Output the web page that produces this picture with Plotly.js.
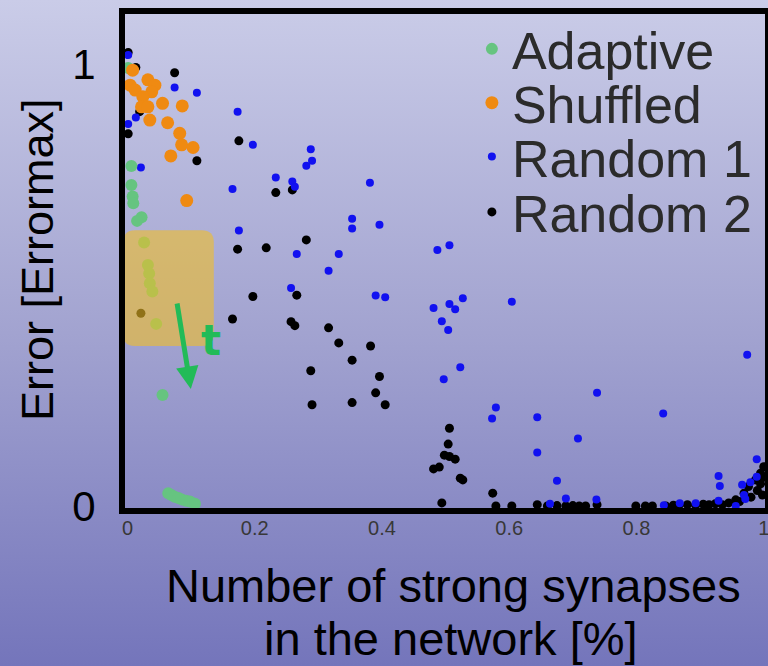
<!DOCTYPE html>
<html>
<head>
<meta charset="utf-8">
<script src="https://cdn.plot.ly/plotly-3.0.1.min.js"></script>
<style>
  html, body { margin: 0; padding: 0; }
  body { width: 768px; height: 666px; overflow: hidden;
         background: linear-gradient(to bottom, #cacce8 0%, #a2a3d0 50%, #7475bb 100%); }
  #chart { width: 768px; height: 666px; }
</style>
</head>
<body>
<div id="chart"></div>
<script>
// ---- data ----
const seriesNames = ["Adaptive", "Shuffled", "Random 1", "Random 2"];

const adaptiveX = [0.001,0.006,0.006,0.008,0.009,0.022,0.015,0.026,0.032,0.034,0.035,0.039,0.045,0.055,0.064,0.069,0.074,0.080,0.085,0.092,0.098,0.106];
const adaptiveY = [0.991,0.769,0.726,0.700,0.685,0.653,0.645,0.596,0.545,0.526,0.504,0.485,0.412,0.251,0.029,0.025,0.021,0.018,0.015,0.012,0.010,0.005];

const shuffledX = [0.008,0.004,0.012,0.032,0.043,0.038,0.024,0.022,0.032,0.055,0.086,0.035,0.063,0.082,0.085,0.103,0.068,0.093];
const shuffledY = [0.986,0.952,0.941,0.964,0.952,0.937,0.926,0.903,0.903,0.911,0.905,0.873,0.867,0.843,0.817,0.811,0.792,0.691];

const random1X = [0.001,0.074,0.109,0.013,0.001,0.173,0.197,0.288,0.290,0.281,0.021,0.233,0.259,0.263,0.165,0.381,0.353,0.353,0.396,0.175,0.266,0.332,0.487,0.506,0.316,0.257,0.390,0.405,0.481,0.506,0.515,0.527,0.494,0.504,0.604,0.523,0.497,0.974,0.738,0.579,0.573,0.644,0.842,0.708,0.644,0.989,0.675,0.689,0.737,0.929,0.931,0.966,0.979,0.969,0.989,0.664,0.843,0.868,0.893,0.929,0.971,0.956];
const random1Y = [1.020,0.947,0.935,0.879,0.864,0.892,0.817,0.807,0.781,0.770,0.766,0.743,0.734,0.722,0.717,0.731,0.650,0.628,0.636,0.623,0.570,0.570,0.579,0.590,0.532,0.493,0.476,0.472,0.448,0.457,0.445,0.470,0.418,0.398,0.462,0.314,0.287,0.342,0.256,0.223,0.198,0.201,0.209,0.153,0.121,0.106,0.057,0.017,0.015,0.068,0.045,0.048,0.054,0.025,0.066,0.005,0.002,0.006,0.006,0.012,0.016,0.000];

const random2X = [0.001,0.013,0.074,0.019,0.001,0.175,0.109,0.233,0.259,0.281,0.173,0.218,0.266,0.197,0.165,0.257,0.263,0.316,0.332,0.382,0.353,0.288,0.396,0.390,0.290,0.353,0.405,0.021,0.506,0.504,0.498,0.506,0.515,0.481,0.490,0.523,0.527,0.494,0.574,
  0.579,0.604,0.644,0.660,0.675,0.689,0.700,0.710,0.720,0.738,0.799,0.814,0.825,0.846,0.858,0.867,0.880,0.893,0.905,0.914,0.924,0.935,0.945,0.956,0.962,0.969,0.976,0.980,0.987,0.990,0.995,0.995,1.000,1.000,0.998];
const random2Y = [1.026,0.992,0.980,0.892,0.842,0.826,0.781,0.709,0.715,0.602,0.581,0.584,0.477,0.474,0.423,0.417,0.408,0.403,0.369,0.362,0.330,0.306,0.293,0.256,0.229,0.234,0.229,0.436,0.176,0.140,0.115,0.112,0.106,0.084,0.088,0.063,0.059,0.007,0.029,
  0.000,0.000,0.003,0.000,0.001,0.000,0.001,0.000,0.000,0.003,0.000,0.000,0.000,0.000,0.002,0.002,0.003,0.002,0.004,0.003,0.005,0.003,0.007,0.014,0.010,0.029,0.044,0.020,0.059,0.035,0.074,0.050,0.089,0.065,0.025];

const xTickVals = [0, 0.2, 0.4, 0.6, 0.8, 1];
const xTickText = ["0", "0.2", "0.4", "0.6", "0.8", "1"];
const yTickVals = [0, 1];
const yTickText = ["0", "1"];

// ---- styling ----
const FONT = "Liberation Sans, Arial, Helvetica, sans-serif";
const colors = { adaptive: "#66c480", shuffled: "#ef8a12", random1: "#1111f0", random2: "#000000" };

function legendBox(y) {
  return { x: 0.542, xanchor: "left", y: y, yanchor: "middle",
           bgcolor: "rgba(0,0,0,0)", borderwidth: 0,
           font: { family: FONT, size: 52, color: "#2b2b2b" } };
}

const traces = [
  { type: "scatter", mode: "markers", name: seriesNames[3], x: random2X, y: random2Y,
    marker: { color: colors.random2, size: 9 }, legend: "legend4" },
  { type: "scatter", mode: "markers", name: seriesNames[2], x: random1X, y: random1Y,
    marker: { color: colors.random1, size: 8 }, legend: "legend3" },
  { type: "scatter", mode: "markers", name: seriesNames[0], x: adaptiveX, y: adaptiveY,
    marker: { color: colors.adaptive, size: 12 }, legend: "legend" },
  { type: "scatter", mode: "markers", name: seriesNames[1], x: shuffledX, y: shuffledY,
    marker: { color: colors.shuffled, size: 13 }, legend: "legend2" }
];

// highlight box (rounded rectangle) in data coordinates
const bx0 = -0.007, bx1 = 0.1356, by0 = 0.362, by1 = 0.624, rx = 0.019, ry = 0.027;
const boxPath = `M ${bx0+rx},${by1} L ${bx1-rx},${by1} Q ${bx1},${by1} ${bx1},${by1-ry} ` +
  `L ${bx1},${by0+ry} Q ${bx1},${by0} ${bx1-rx},${by0} L ${bx0+rx},${by0} Q ${bx0},${by0} ${bx0},${by0+ry} ` +
  `L ${bx0},${by1-ry} Q ${bx0},${by1} ${bx0+rx},${by1} Z`;

const layout = {
  width: 768, height: 666,
  margin: { l: 125, r: 3, t: 14, b: 158 },
  paper_bgcolor: "rgba(0,0,0,0)",
  plot_bgcolor: "rgba(0,0,0,0)",
  font: { family: FONT, color: "#000" },
  showlegend: true,
  legend: legendBox(0.929),
  legend2: legendBox(0.820),
  legend3: legendBox(0.711),
  legend4: legendBox(0.599),
  xaxis: {
    range: [-0.004, 1.002], showgrid: false, zeroline: false,
    showline: true, mirror: true, linecolor: "#000", linewidth: 6,
    tickmode: "array", tickvals: xTickVals, ticktext: xTickText,
    ticks: "", ticklabelstandoff: -3, ticklabeloverflow: "allow",
    tickfont: { family: FONT, size: 20, color: "#383838" }
  },
  yaxis: {
    range: [-0.0045, 1.113], showgrid: false, zeroline: false,
    showline: true, mirror: true, linecolor: "#000", linewidth: 6,
    tickmode: "array", tickvals: yTickVals, ticktext: yTickText,
    ticks: "", ticklabelstandoff: 15,
    tickfont: { family: FONT, size: 42, color: "#000" }
  },
  shapes: [
    { type: "path", xref: "x", yref: "y", path: boxPath, layer: "above",
      fillcolor: "rgba(240,190,40,0.6)", line: { width: 0 } }
  ],
  annotations: [
    { xref: "paper", yref: "paper", x: -0.1375, y: 0.502, xanchor: "center", yanchor: "middle",
      text: "Error [Errormax]", textangle: -90, showarrow: false,
      font: { family: FONT, size: 45, color: "#000" } },
    { xref: "paper", yref: "paper", x: 0.5125, y: -0.157, xanchor: "center", yanchor: "middle",
      text: "Number of strong synapses", showarrow: false,
      font: { family: FONT, size: 47, color: "#000" } },
    { xref: "paper", yref: "paper", x: 0.509, y: -0.265, xanchor: "center", yanchor: "middle",
      text: "in the network [%]", showarrow: false,
      font: { family: FONT, size: 47, color: "#000" } },
    { xref: "x", yref: "y", x: 0.0995, y: 0.2647, axref: "x", ayref: "y", ax: 0.0775, ay: 0.4615,
      text: "", showarrow: true, arrowhead: 2, arrowsize: 0.9, arrowwidth: 5, arrowcolor: "#22bb58" },
    { xref: "x", yref: "y", x: 0.131, y: 0.375, xanchor: "center", yanchor: "middle",
      text: "<b>t</b>", showarrow: false,
      font: { family: "DejaVu Sans, sans-serif", size: 42, color: "#22bb58" } }
  ]
};

Plotly.newPlot("chart", traces, layout, { displayModeBar: false, staticPlot: true });
</script>
</body>
</html>
